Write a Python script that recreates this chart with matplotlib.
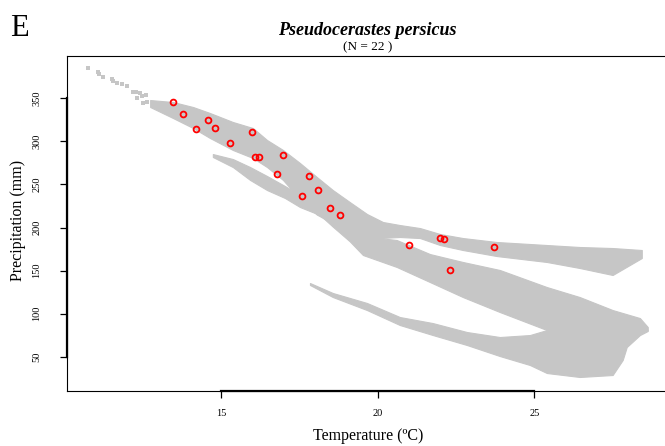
import matplotlib
matplotlib.use("Agg")
import matplotlib.pyplot as plt

plt.rcParams['font.family'] = ['Liberation Serif', 'DejaVu Serif']

# occurrence records (temperature degC, precipitation mm)
occ_temp = [13.48, 13.79, 14.59, 14.19, 14.80, 15.99, 15.30, 16.08, 16.20, 16.99, 16.80,
            17.80, 18.10, 17.59, 18.49, 18.80, 21.01, 21.99, 22.11, 23.71, 22.30]
occ_prec = [345.4, 332.1, 324.5, 314.0, 315.2, 311.2, 297.8, 281.5, 281.5, 283.8, 262.5,
            259.4, 243.5, 236.6, 222.3, 214.2, 180.0, 188.2, 187.0, 177.0, 150.7]

# sparse background cells at the cold / wet end
tail_temp = [10.77, 11.07, 11.12, 11.25, 11.51, 11.56, 11.67, 11.83, 11.99, 12.18, 12.29,
             12.42, 12.31, 12.47, 12.61, 12.65, 12.52]
tail_prec = [384.8, 380.9, 378.2, 375.1, 372.1, 370.4, 367.4, 366.6, 364.6, 357.7, 357.7,
             355.8, 350.0, 352.7, 353.8, 346.1, 344.2]

# background climate space, traced as bands (temperature, upper / lower precipitation)
upper_t = [12.74, 13.47, 14.11, 14.65, 15.38, 16.02, 16.47, 16.98, 17.52, 18.06, 18.57, 19.11,
           19.66, 20.17, 20.71, 21.35, 21.99, 22.72, 23.80, 25.40, 26.45, 27.50, 28.43]
upper_hi = [348.0, 345.7, 339.9, 332.9, 322.5, 315.5, 301.6, 290.0, 274.9, 258.6, 243.5, 229.6,
            215.7, 206.4, 202.9, 199.4, 192.5, 187.8, 183.2, 179.7, 177.4, 176.2, 173.9]
upper_lo = [339.9, 327.1, 315.5, 303.9, 290.0, 280.7, 270.2, 255.2, 233.0, 215.0, 205.0, 192.0,
            188.0, 188.0, 189.0, 187.8, 179.7, 173.9, 166.9, 160.0, 153.0, 144.9, 164.6]

strand_t = [14.74, 15.38, 15.93, 16.47, 17.04, 17.52, 18.16]
strand_hi = [285.3, 279.5, 270.2, 259.8, 248.2, 238.0, 225.0]
strand_lo = [281.9, 270.2, 255.2, 243.5, 234.3, 223.8, 214.5]

middle_t = [18.16, 18.57, 19.11, 19.53, 20.61, 21.67, 22.72, 23.90, 25.40, 26.45, 27.50,
            28.37, 28.62]
middle_hi = [225.0, 214.5, 202.9, 190.0, 185.5, 169.2, 160.0, 150.7, 130.9, 119.3, 104.2,
             94.9, 84.5]
middle_lo = [214.5, 201.0, 184.0, 168.1, 154.2, 136.7, 119.3, 101.9, 81.0, 75.2, 75.2,
             77.5, 81.0]

lower_t = [17.84, 18.57, 19.66, 20.71, 21.76, 22.85, 23.90, 24.86, 25.40, 26.45, 27.50,
           27.82, 27.95, 28.37, 28.62]
lower_hi = [135.6, 124.0, 112.4, 96.1, 89.1, 78.7, 72.9, 75.2, 81.0, 86.8, 90.3,
            90.3, 86.8, 83.3, 81.0]
lower_lo = [133.3, 119.3, 104.2, 86.8, 75.2, 63.6, 50.8, 40.4, 31.1, 26.5, 28.8,
            46.2, 61.3, 75.2, 79.9]

x_ticks = [15, 20, 25]
y_ticks = [50, 100, 150, 200, 250, 300, 350]

grey = '#c6c6c6'

fig = plt.figure(figsize=(6.65, 4.46), dpi=100)
ax = fig.add_axes([0.1, 0.1244, 0.9075, 0.75])

bands = [(upper_t, upper_lo, upper_hi), (strand_t, strand_lo, strand_hi),
         (middle_t, middle_lo, middle_hi), (lower_t, lower_lo, lower_hi)]
for t, lo, hi in bands:
    ax.fill_between(t, lo, hi, color=grey, lw=0.8, edgecolor=grey)
ax.scatter(tail_temp, tail_prec, s=7, marker='s', color=grey, lw=0)

ax.plot(occ_temp, occ_prec, 'o', ms=4.2, mfc='none', mec='red', mew=1.3)

ax.set_xlim(10.07, 29.33)
ax.set_ylim(10.8, 399.1)

ax.set_xticks(x_ticks)
ax.set_xticklabels([str(v) for v in x_ticks], fontsize=7.5)
ax.set_yticks(y_ticks)
ax.set_yticklabels([str(v) for v in y_ticks], fontsize=7.5, rotation=90, va='center')
ax.tick_params(direction='out', length=5, width=0.9, pad=13)
ax.tick_params(axis='x', pad=8)

for sp in ax.spines.values():
    sp.set_linewidth(0.8)

# R style axis segments spanning the tick range
ax.plot([x_ticks[0], x_ticks[-1]], [10.8, 10.8], color='black', lw=1.6, clip_on=False)
ax.plot([10.07, 10.07], [y_ticks[0], y_ticks[-1]], color='black', lw=1.6, clip_on=False)

fig.text(0.553, 0.004, 'Temperature (ºC)', ha='center', va='bottom', fontsize=11.5)
fig.text(0.027, 0.505, 'Precipitation (mm)', rotation=90, ha='center', va='center', fontsize=11.5)

fig.text(0.553, 0.912, 'Pseudocerastes persicus', ha='center', va='bottom',
         fontsize=13, fontweight='bold', fontstyle='italic')
fig.text(0.553, 0.893, '(N = 22 )', ha='center', va='center', fontsize=9.5)
fig.text(0.015, 0.935, 'E', ha='left', va='center', fontsize=22)

fig.savefig('out.png', dpi=100)
